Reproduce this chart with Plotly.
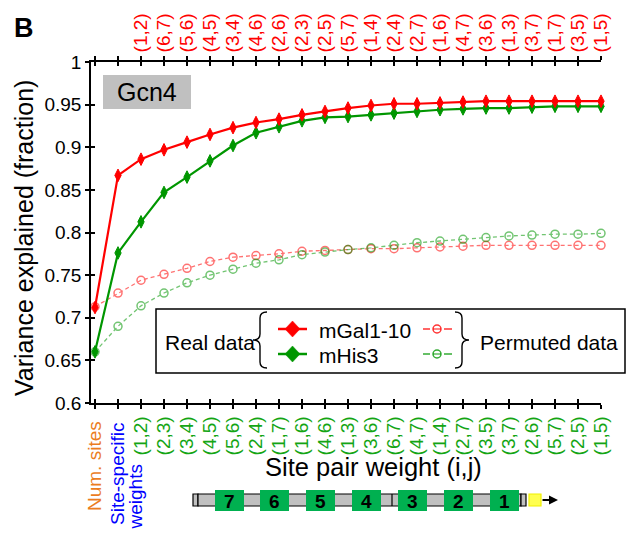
import plotly.graph_objects as go

# ---------------- data ----------------
x_idx = list(range(23))
bottom_labels = ["", "",
                 "(1,2)", "(2,3)", "(3,4)", "(4,5)", "(5,6)", "(2,4)", "(1,7)", "(1,6)", "(4,6)",
                 "(1,3)", "(3,6)", "(6,7)", "(4,7)", "(1,4)", "(2,7)", "(3,5)", "(3,7)", "(2,6)",
                 "(5,7)", "(2,5)", "(1,5)"]
num_sites_label = "Num. sites"
site_specific_label = ["Site-specific", "weights"]
top_labels = ["", "",
              "(1,2)", "(6,7)", "(5,6)", "(4,5)", "(3,4)", "(4,6)", "(2,6)", "(2,3)", "(2,5)",
              "(5,7)", "(1,4)", "(2,4)", "(2,7)", "(1,6)", "(4,7)", "(3,6)", "(1,3)", "(3,7)",
              "(1,7)", "(3,5)", "(1,5)"]
gal_real = [0.712, 0.867, 0.886, 0.897, 0.906, 0.915, 0.923, 0.929, 0.933, 0.938, 0.942, 0.946,
            0.949, 0.951, 0.951, 0.952, 0.953, 0.954, 0.954, 0.954, 0.954, 0.954, 0.954]
his_real = [0.660, 0.776, 0.8125, 0.847, 0.865, 0.884, 0.902, 0.917, 0.924, 0.931, 0.935, 0.936,
            0.938, 0.940, 0.942, 0.944, 0.945, 0.946, 0.946, 0.947, 0.948, 0.948, 0.948]
gal_perm = [0.713, 0.729, 0.744, 0.751, 0.758, 0.766, 0.771, 0.773, 0.775, 0.778, 0.779, 0.780,
            0.781, 0.781, 0.782, 0.783, 0.784, 0.785, 0.785, 0.785, 0.785, 0.785, 0.785]
his_perm = [0.660, 0.690, 0.714, 0.729, 0.741, 0.750, 0.757, 0.764, 0.768, 0.774, 0.777, 0.780,
            0.782, 0.785, 0.788, 0.790, 0.792, 0.794, 0.796, 0.797, 0.798, 0.798, 0.799]
y_ticks = [0.6, 0.65, 0.7, 0.75, 0.8, 0.85, 0.9, 0.95, 1.0]
y_ticktext = ["0.6", "0.65", "0.7", "0.75", "0.8", "0.85", "0.9", "0.95", "1"]
sites = ["7", "6", "5", "4", "3", "2", "1"]

# ---------------- styling ----------------
FONT = "Liberation Sans, Arial, sans-serif"
RED = "rgb(255,0,0)"
GREEN = "rgb(0,150,0)"
LGREEN = "rgb(20,165,20)"
ORANGE = "rgb(235,125,30)"
BLUE = "rgb(0,0,255)"

W, H = 634, 542
L, R, T, B = 91, 33, 62, 139
PW = W - L - R
PH = H - T - B


def px(x):
    return (x - L) / PW


def py(y):
    return (H - B - y) / PH


XR = [-0.174, 22.0]

fig = go.Figure()

fig.add_trace(go.Scatter(x=x_idx, y=gal_perm, mode="lines+markers", cliponaxis=False,
                         line=dict(color=RED, width=1.3, dash="4px,3px"), opacity=0.55,
                         marker=dict(symbol="circle-open", size=8, line=dict(width=1.5, color=RED)),
                         showlegend=False))
fig.add_trace(go.Scatter(x=x_idx, y=his_perm, mode="lines+markers", cliponaxis=False,
                         line=dict(color=GREEN, width=1.3, dash="4px,3px"), opacity=0.55,
                         marker=dict(symbol="circle-open", size=8, line=dict(width=1.5, color=GREEN)),
                         showlegend=False))
fig.add_trace(go.Scatter(x=x_idx, y=his_real, mode="lines+markers", cliponaxis=False,
                         line=dict(color=GREEN, width=2.2),
                         marker=dict(symbol="diamond-tall", size=9, color=GREEN,
                                     line=dict(width=1, color=GREEN)),
                         showlegend=False))
fig.add_trace(go.Scatter(x=x_idx, y=gal_real, mode="lines+markers", cliponaxis=False,
                         line=dict(color=RED, width=2.2),
                         marker=dict(symbol="diamond-tall", size=9, color=RED,
                                     line=dict(width=1, color=RED)),
                         showlegend=False))
# dummy traces so the extra tick axes render
for xa, ya in [("x2", "y"), ("x3", "y"), ("x4", "y"), ("x", "y2")]:
    fig.add_trace(go.Scatter(x=[None], y=[None], xaxis=xa, yaxis=ya, showlegend=False,
                             hoverinfo="skip"))

common_x = dict(range=XR, tickmode="array", tickvals=x_idx, showgrid=False, zeroline=False,
                ticklen=4, tickwidth=1.5, tickcolor="black")
fig.update_layout(
    width=W, height=H, margin=dict(l=L, r=R, t=T, b=B),
    plot_bgcolor="white", paper_bgcolor="white",
    font=dict(family=FONT, color="black"),
    xaxis=dict(**common_x, ticktext=bottom_labels, ticks="outside", tickangle=-90,
               showline=True, linecolor="black", linewidth=1.5,
               tickfont=dict(size=19, family=FONT, color=LGREEN)),
    xaxis2=dict(**common_x, overlaying="x", side="top", anchor="y", ticktext=top_labels,
                ticks="outside", tickangle=-90, showline=True, linecolor="black", linewidth=1.5,
                tickfont=dict(size=19, color=RED, family=FONT)),
    xaxis3=dict(**common_x, overlaying="x", side="bottom", anchor="y", ticks="inside",
                showticklabels=False, showline=False),
    xaxis4=dict(**common_x, overlaying="x", side="top", anchor="y", ticks="inside",
                showticklabels=False, showline=False),
    yaxis=dict(range=[0.6, 1.0], tickmode="array", tickvals=y_ticks, ticktext=y_ticktext,
               ticks="outside", ticklen=4, tickwidth=1.5, tickcolor="black",
               showline=True, linecolor="black", linewidth=1.5, showgrid=False, zeroline=False,
               tickfont=dict(size=19, family=FONT)),
    yaxis2=dict(range=[0.6, 1.0], overlaying="y", side="left", anchor="x", tickmode="array",
                tickvals=y_ticks, ticks="inside", ticklen=4, tickwidth=1.5, tickcolor="black",
                showticklabels=False, showline=False, showgrid=False, zeroline=False),
)

shapes = []
annotations = []


def ann(x, y, text, size, xanchor="center", yanchor="middle", bold=False, angle=0, color="black"):
    annotations.append(dict(x=px(x), y=py(y), xref="paper", yref="paper", text=f"<b>{text}</b>" if bold else text,
                            showarrow=False, xanchor=xanchor, yanchor=yanchor, textangle=angle,
                            font=dict(size=size, family=FONT, color=color)))


def rect(x0, y0, x1, y1, fill, line_color=None, lw=0):
    shapes.append(dict(type="rect", xref="paper", yref="paper", x0=px(x0), x1=px(x1), y0=py(y0), y1=py(y1),
                       fillcolor=fill, line=dict(color=line_color or fill, width=lw), layer="above"))


def seg(x0, y0, x1, y1, color, lw):
    shapes.append(dict(type="line", xref="paper", yref="paper", x0=px(x0), x1=px(x1), y0=py(y0), y1=py(y1),
                       line=dict(color=color, width=lw), layer="above"))


def path(d_pts, color, lw, fill=None):
    parts = []
    for cmd, pts in d_pts:
        coords = " ".join(f"{px(a):.5f},{py(b):.5f}" for a, b in pts)
        parts.append(f"{cmd}{coords}")
    shapes.append(dict(type="path", xref="paper", yref="paper", path=" ".join(parts) + (" Z" if fill else ""),
                       line=dict(color=color, width=lw), fillcolor=fill or "rgba(0,0,0,0)", layer="above"))


# the first two category labels under ticks 0 and 1
for xv, xs, ytop, txt, col in [(0, -1, 419, num_sites_label, ORANGE),
                               (1, -1, 421, site_specific_label[0], BLUE),
                               (1, 17, 463, site_specific_label[1], BLUE)]:
    annotations.append(dict(x=xv, xref="x", y=py(ytop), yref="paper", xshift=xs, text=txt,
                            showarrow=False, textangle=-90, xanchor="center", yanchor="top",
                            font=dict(size=19, family=FONT, color=col)))

# Panel letter, y title, x title
ann(24, 28, "B", 27, bold=True)
ann(24, 238, "Variance explained (fraction)", 25, angle=-90)
ann(373, 467, "Site pair weight (i,j)", 25.5)

# Gcn4 box
rect(103, 75, 191, 109, "rgb(192,192,192)")
ann(147, 92, "Gcn4", 25)

# Legend box
rect(156, 309, 625, 373, "white", "black", 1.5)
ann(163, 342, "Real data", 21, xanchor="left")
# left brace
path([("M", [(267, 312)]), ("Q", [(260, 312), (260, 318)]), ("L", [(260, 334)]),
      ("Q", [(260, 340), (253, 340)]), ("Q", [(260, 340), (260, 346)]), ("L", [(260, 362)]),
      ("Q", [(260, 368), (267, 368)])], "black", 1.4)
# right brace
path([("M", [(455, 312)]), ("Q", [(462, 312), (462, 318)]), ("L", [(462, 334)]),
      ("Q", [(462, 340), (469, 340)]), ("Q", [(462, 340), (462, 346)]), ("L", [(462, 362)]),
      ("Q", [(462, 368), (455, 368)])], "black", 1.4)
for yy, col, name in [(329, RED, "mGal1-10"), (354, GREEN, "mHis3")]:
    seg(278, yy, 307, yy, col, 2.5)
    path([("M", [(292.5, yy - 8)]), ("L", [(300, yy)]), ("L", [(292.5, yy + 8)]), ("L", [(285, yy)])],
         col, 0.5, fill=col)
    ann(317, yy + 1, name, 21, xanchor="left")
    c = "rgba(255,0,0,0.8)" if col == RED else "rgba(0,150,0,0.8)"
    seg(423, yy, 430, yy, c, 1.5)
    seg(444, yy, 452, yy, c, 1.5)
    shapes.append(dict(type="circle", xref="paper", yref="paper", x0=px(433), x1=px(441),
                       y0=py(yy + 4), y1=py(yy - 4), line=dict(color=c, width=1.5), layer="above"))
    seg(433, yy, 441, yy, c, 1.2)
ann(478, 342, "Permuted data", 21, xanchor="left")

# Gene diagram
GRAY = "rgb(192,192,192)"
rect(193, 494, 198, 506, GRAY, "black", 1.2)
rect(198, 494, 521, 506, GRAY, "black", 1.2)
rect(521, 494, 526, 506, GRAY, "black", 1.2)
seg(392, 494, 392, 506, "black", 1.2)
box_left = [215, 260, 306, 352, 398, 444, 490]
for bl, s in zip(box_left, sites):
    rect(bl, 490, bl + 29, 511, "rgb(0,176,80)")
    ann(bl + 14.5, 501, s, 19, bold=True)
rect(529, 494, 541, 506, "rgb(255,255,80)", "rgb(240,240,0)", 1.2)
annotations.append(dict(x=px(558), y=py(500), xref="paper", yref="paper", ax=-17, ay=0,
                        text="", showarrow=True, arrowhead=2,
                        arrowsize=1, arrowwidth=1.8, arrowcolor="black"))

fig.update_layout(shapes=shapes, annotations=annotations)
fig.write_html("out.html")
